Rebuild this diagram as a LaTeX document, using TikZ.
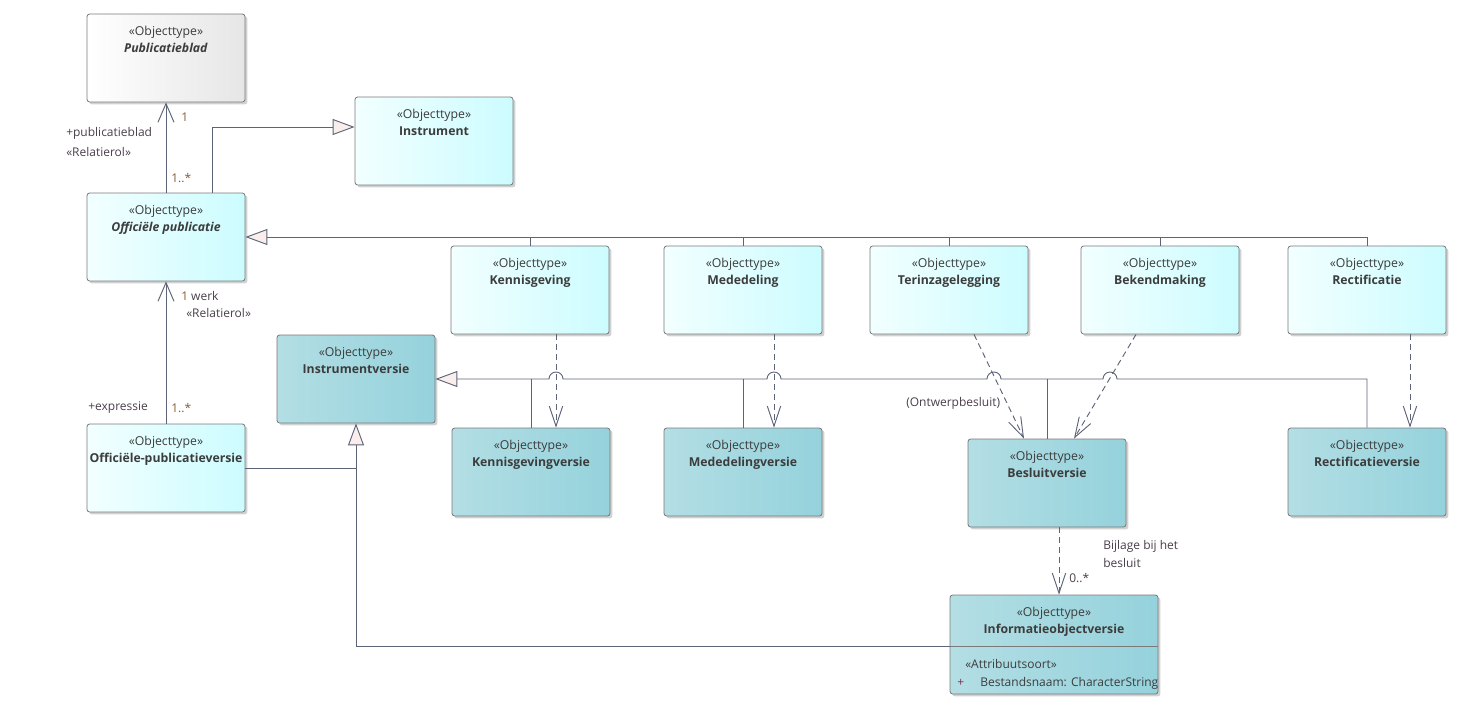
\documentclass[tikz,border=0pt]{standalone}
\usepackage{fontspec}
\setmainfont{Open Sans}
\usetikzlibrary{arrows.meta,shadows}
\definecolor{lc}{HTML}{5E6478}
\definecolor{bord}{HTML}{7A7A7A}
\definecolor{cyL}{HTML}{F2FFFF}
\definecolor{cyR}{HTML}{CCFCFF}
\definecolor{tlL}{HTML}{B3DEE4}
\definecolor{tlR}{HTML}{95D2DC}
\definecolor{gyL}{HTML}{FFFFFF}
\definecolor{gyR}{HTML}{E6E6E6}
\definecolor{trif}{HTML}{FAEEEC}
\definecolor{txt}{HTML}{3C3C3C}
\definecolor{mult}{HTML}{8A5A30}
\definecolor{lbl}{HTML}{4A3F4A}
\definecolor{plus}{HTML}{7A3050}
\tikzset{
 objbox/.style={draw=bord, line width=0.6pt, rounded corners=2pt, minimum width=118.5pt, minimum height=66pt, inner sep=0pt,
   drop shadow={shadow xshift=1.8pt, shadow yshift=-1.8pt, opacity=0.18, fill=black}},
 cyanbox/.style={objbox, left color=cyL, right color=cyR},
 tealbox/.style={objbox, left color=tlL, right color=tlR},
 graybox/.style={objbox, left color=gyL, right color=gyR},
 btext/.style={anchor=north, align=center, inner sep=0pt, text=txt, font=\fontsize{9.2}{12.9}\selectfont},
 conn/.style={draw=lc, line width=0.7pt},
 gen/.style={conn, -{Triangle[length=16.5pt,width=12pt,fill=trif]}},
 assoc/.style={conn, -{Straight Barb[length=14pt,width=12pt]}},
 dep/.style={conn, dash pattern=on 4.5pt off 3pt, -{Straight Barb[length=15pt,width=10pt]}},
 lab/.style={anchor=west, inner sep=0pt, font=\fontsize{9}{10}\selectfont, text=lbl},
 mul/.style={lab, text=mult},
}
\begin{document}
\begin{tikzpicture}[x=0.75pt, y=-0.75pt]
\useasboundingbox (0,0) rectangle (1464,715);

% boxes
\node[graybox] (pb) at (166,58) {};
\node[cyanbox] (inst) at (434,141) {};
\node[cyanbox] (op) at (166,237) {};
\node[cyanbox] (ken) at (530,290) {};
\node[cyanbox] (med) at (743,290) {};
\node[cyanbox] (ter) at (949,290) {};
\node[cyanbox] (bek) at (1160,290) {};
\node[cyanbox] (rec) at (1367,290) {};
\node[tealbox] (iv) at (356,379) {};
\node[cyanbox] (opv) at (166,468) {};
\node[tealbox] (kv) at (531,472) {};
\node[tealbox] (mv) at (743,472) {};
\node[tealbox] (bv) at (1047,483) {};
\node[tealbox] (rv) at (1367,472) {};
\node[tealbox, minimum width=156pt, minimum height=74.25pt] (iov) at (1054,644.5) {};

% box texts
\node[btext] (pb-t) at ([yshift=-9pt]pb.north) {«Objecttype»\\\textbf{\textit{Publicatieblad}}};
\node[btext] (inst-t) at ([yshift=-9pt]inst.north) {«Objecttype»\\\textbf{Instrument}};
\node[btext] (op-t) at ([yshift=-9pt]op.north) {«Objecttype»\\\textbf{\textit{Officiële publicatie}}};
\node[btext] (ken-t) at ([yshift=-9pt]ken.north) {«Objecttype»\\\textbf{Kennisgeving}};
\node[btext] (med-t) at ([yshift=-9pt]med.north) {«Objecttype»\\\textbf{Mededeling}};
\node[btext] (ter-t) at ([yshift=-9pt]ter.north) {«Objecttype»\\\textbf{Terinzagelegging}};
\node[btext] (bek-t) at ([yshift=-9pt]bek.north) {«Objecttype»\\\textbf{Bekendmaking}};
\node[btext] (rec-t) at ([yshift=-9pt]rec.north) {«Objecttype»\\\textbf{Rectificatie}};
\node[btext] (iv-t) at ([yshift=-9pt]iv.north) {«Objecttype»\\\textbf{Instrumentversie}};
\node[btext] (opv-t) at ([yshift=-9pt]opv.north) {«Objecttype»\\\textbf{Officiële-publicatieversie}};
\node[btext] (kv-t) at ([yshift=-9pt]kv.north) {«Objecttype»\\\textbf{Kennisgevingversie}};
\node[btext] (mv-t) at ([yshift=-9pt]mv.north) {«Objecttype»\\\textbf{Mededelingversie}};
\node[btext] (bv-t) at ([yshift=-9pt]bv.north) {«Objecttype»\\\textbf{Besluitversie}};
\node[btext] (rv-t) at ([yshift=-9pt]rv.north) {«Objecttype»\\\textbf{Rectificatieversie}};
\node[btext] (iov-t) at ([yshift=-9pt]iov.north) {«Objecttype»\\\textbf{Informatieobjectversie}};
\coordinate (sepL) at ([yshift=-1.125pt]iov.west);
\coordinate (sepR) at ([yshift=-1.125pt]iov.east);
\draw[draw=bord, line width=0.6pt] (sepL) -- (sepR);
\node[lab, text=txt] (attr-s) at (965,664) {«Attribuutsoort»};
\node[lab, text=plus] (attr-p) at (957,683) {+};
\node[lab, text=txt] (attr-n) at (980,683) {Bestandsnaam: CharacterString};

% associations
\draw[assoc] (op.north) -- (pb.south);
\draw[assoc] (opv.north) -- (op.south);

% generalization Officiële publicatie -> Instrument
\draw[gen] ([xshift=34.5pt]op.north) |- ([yshift=10.5pt]inst.west);

% generalizations to Officiële publicatie
\draw[gen] (rec.north) -- (rec.north |- op.east) -- (op.east);
\foreach \n in {ken,med,ter,bek} \draw[conn] (\n.north) -- (\n.north |- op.east);

% generalizations to Instrumentversie (with hops)
\draw[gen] (rv.north) -- (rv.north |- iv.east) -- (1117,379)
  arc[start angle=0,end angle=180,radius=5.25pt] -- (1001,379)
  arc[start angle=0,end angle=180,radius=5.25pt] -- (781,379)
  arc[start angle=0,end angle=180,radius=5.25pt] -- (563,379)
  arc[start angle=0,end angle=180,radius=5.25pt] -- (iv.east);
\foreach \n in {kv,mv,bv} \draw[conn] (\n.north) -- (\n.north |- iv.east);

\draw[gen] (sepL) -| (iv.south);
\draw[conn] (opv.east) -- (opv.east -| iv.south);

% dependencies
\draw[dep] ([xshift=19.5pt]ken.south) -- ([xshift=19.5pt]ken.south |- kv.north);
\draw[dep] ([xshift=23.25pt]med.south) -- ([xshift=23.25pt]med.south |- mv.north);
\draw[dep] ([xshift=18.75pt]ter.south) -- ([xshift=-17.25pt]bv.north);
\draw[dep] ([xshift=-18pt]bek.south) -- ([xshift=20.25pt]bv.north);
\draw[dep] ([xshift=32.25pt]rec.south) -- ([xshift=32.25pt]rec.south |- rv.north);
\draw[dep] ([xshift=9pt]bv.south) -- ([xshift=9pt]bv.south |- iov.north);

% labels
\node[mul] (l1) at (181,117) {1};
\node[lab] (l2) at (66,133) {+publicatieblad};
\node[lab] (l3) at (66,152) {«Relatierol»};
\node[mul] (l4) at (171,178) {1..*};
\node[lab] (l5) at (181,296) {\textcolor{mult}{1} werk};
\node[lab] (l6) at (186,313) {«Relatierol»};
\node[lab] (l7) at (88,408) {+expressie};
\node[mul] (l8) at (171,408) {1..*};
\node[lab] (l9) at (906,403) {(Ontwerpbesluit)};
\node[lab] (l10) at (1103,546) {Bijlage bij het};
\node[lab] (l11) at (1103,563) {besluit};
\node[lab] (l12) at (1069,578) {0..*};
\end{tikzpicture}
\end{document}
